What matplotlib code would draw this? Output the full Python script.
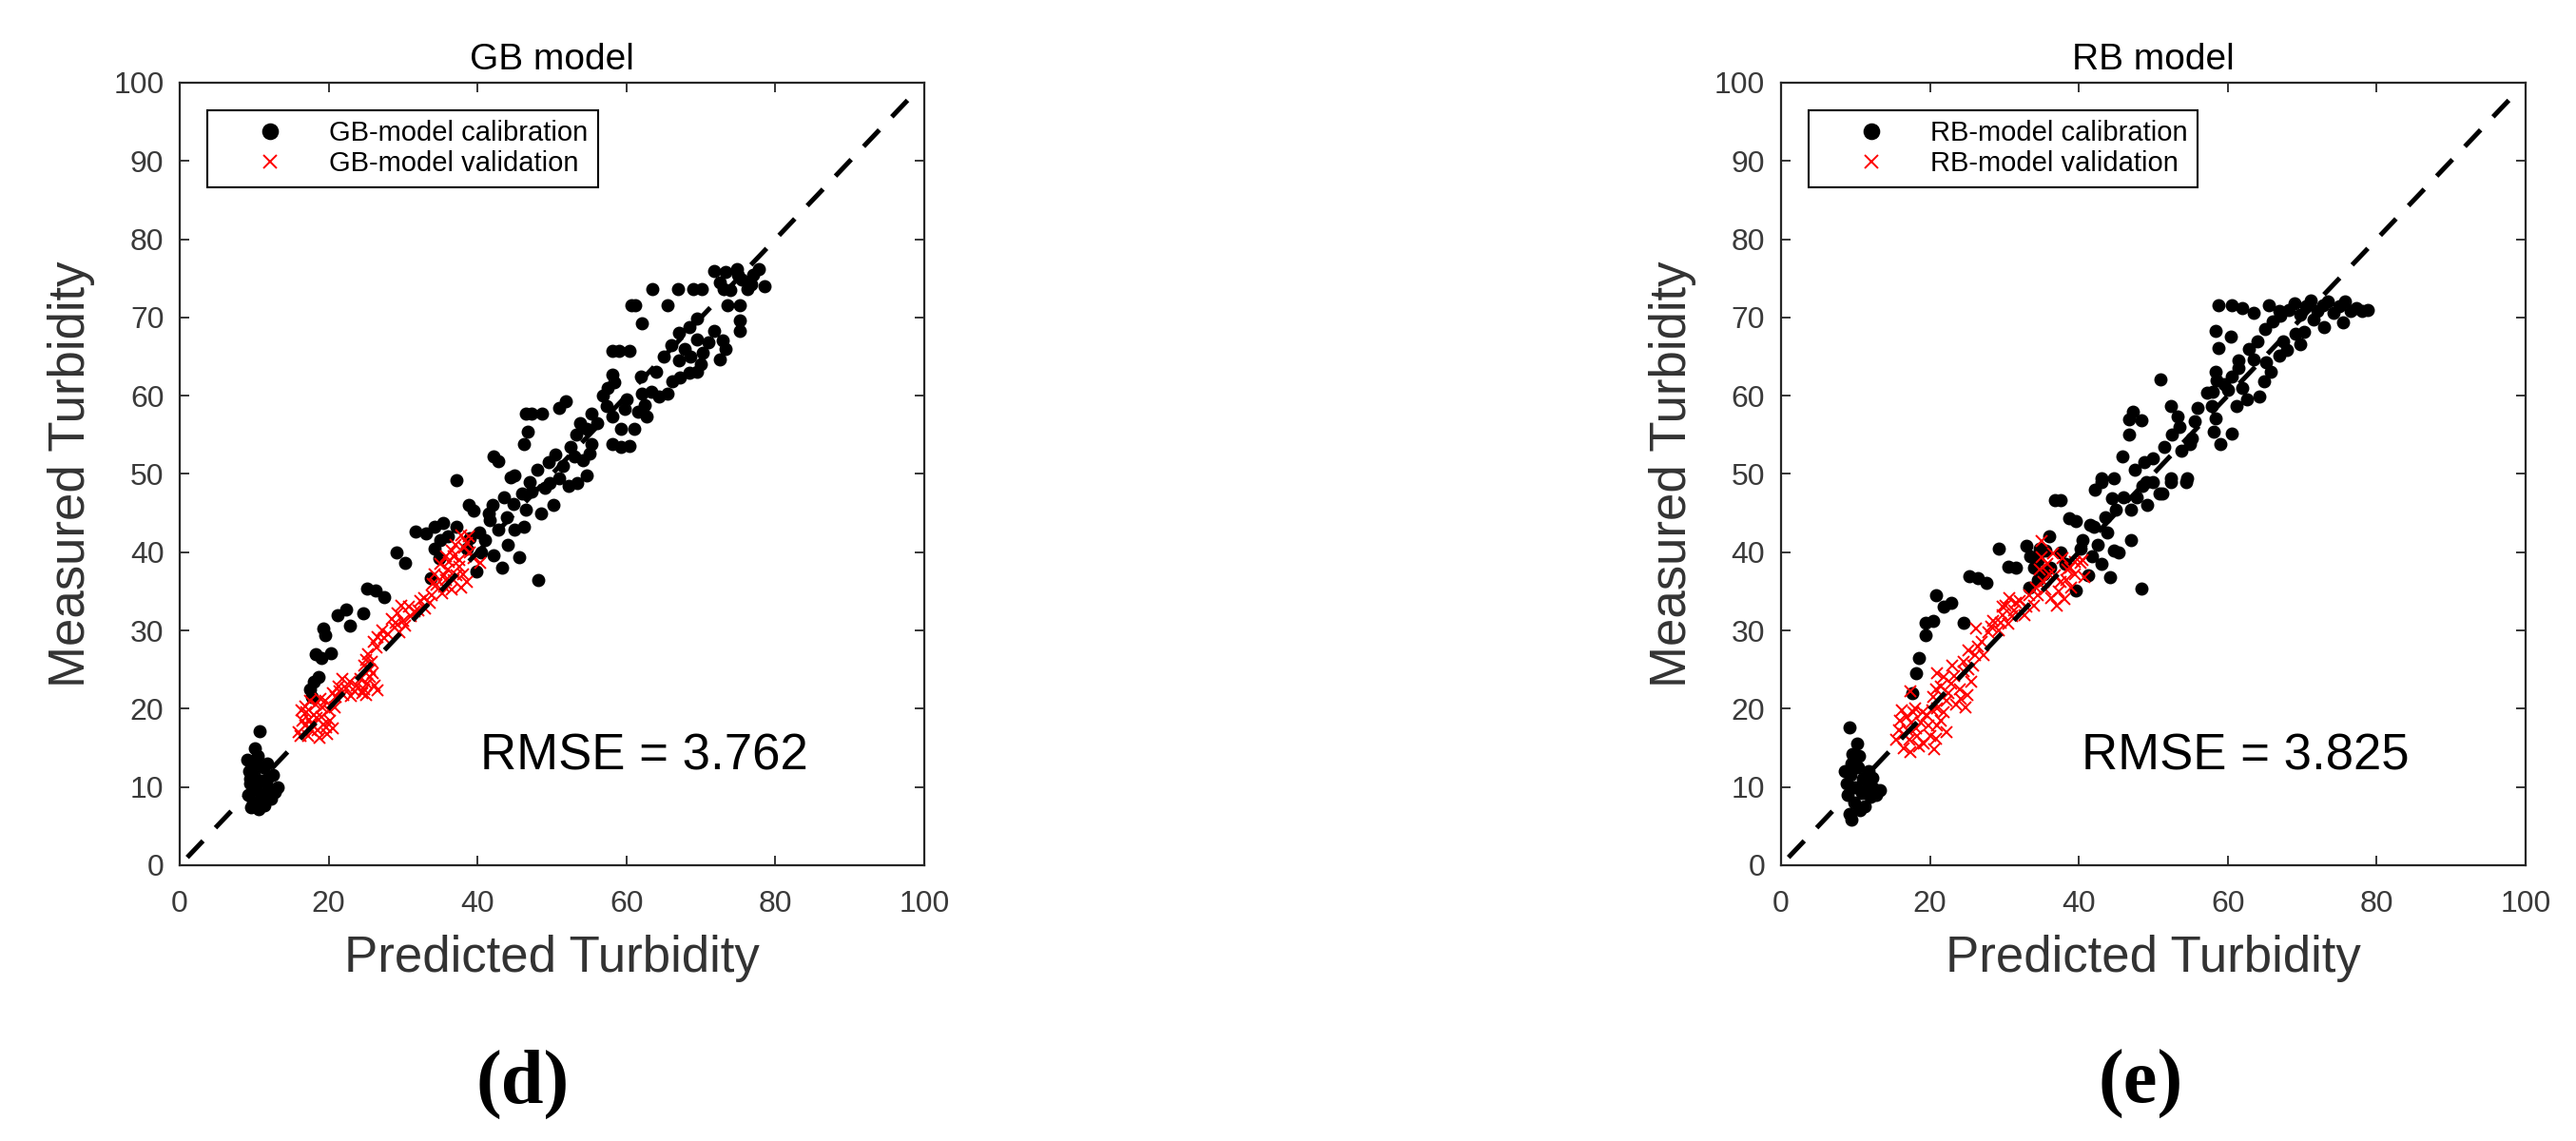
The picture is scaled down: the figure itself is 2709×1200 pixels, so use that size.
import matplotlib
matplotlib.use("Agg")
import matplotlib.pyplot as plt

plt.rcParams['font.family'] = ['Liberation Sans', 'DejaVu Sans']

# ---- data (predicted, measured) ----
gb_cal = [
    (9.0, 13.5), (9.3, 12.0), (9.5, 10.5), (9.2, 9.0), (9.8, 8.0), (10.0, 11.5), (10.2, 13.0),
    (10.5, 14.0), (10.4, 9.5), (10.8, 8.2), (11.0, 10.8), (11.2, 12.5), (11.5, 9.0), (11.8, 11.0),
    (12.0, 9.8), (12.3, 8.5), (12.8, 9.4), (13.2, 10.0), (9.6, 7.4), (10.6, 7.2), (11.4, 7.6),
    (10.1, 15.0), (10.7, 17.1), (9.4, 11.0), (11.7, 13.0), (12.5, 11.5),
    (17.5, 22.5), (18.0, 23.5), (18.6, 24.0), (17.8, 21.5), (18.3, 27.0), (19.0, 26.5), (20.3, 27.1),
    (19.5, 29.4), (19.3, 30.2), (21.2, 32.0), (22.3, 32.7), (22.9, 30.6), (24.6, 32.2), (25.1, 35.3),
    (26.3, 35.1), (27.4, 34.3), (29.1, 40.0), (30.3, 38.6), (31.7, 42.7), (33.1, 42.4), (34.2, 43.3),
    (35.4, 43.7), (37.1, 43.3), (34.2, 40.4), (34.8, 39.2), (33.7, 36.7), (35.0, 41.5), (36.0, 42.0),
    (37.1, 49.2), (38.8, 46.1), (39.4, 45.3), (39.9, 37.6), (40.5, 40.0), (41.6, 44.1), (42.8, 42.9),
    (43.9, 44.5), (45.0, 42.9), (46.2, 43.3), (43.3, 38.0), (45.6, 39.4), (42.2, 39.6), (48.2, 36.5),
    (45.0, 49.8), (49.0, 48.2), (50.2, 46.1), (54.7, 49.8), (47.3, 47.8), (48.5, 44.9), (41.0, 41.5),
    (44.0, 41.0), (46.5, 45.5),
    (38.5, 40.5), (39.0, 41.8), (40.2, 42.5), (41.5, 45.0), (42.0, 46.0), (43.5, 47.0), (44.8, 46.2),
    (46.0, 47.5), (47.0, 49.0), (48.0, 50.5), (49.5, 51.5), (50.5, 52.5), (51.5, 51.0), (52.5, 53.5),
    (53.8, 56.5), (56.0, 56.5), (56.8, 60.0), (57.5, 61.0), (60.0, 59.5), (62.0, 62.5), (64.0, 63.0),
    (65.0, 65.0), (66.0, 66.5), (67.0, 68.0),
    (42.2, 52.2), (42.8, 51.6), (44.5, 49.6), (46.2, 53.8), (46.8, 55.4), (46.5, 57.7), (47.3, 57.7),
    (48.7, 57.7), (51.0, 58.5), (51.9, 59.3), (49.7, 48.9), (51.0, 49.5), (52.2, 48.5), (53.4, 48.8),
    (53.0, 52.2), (54.2, 51.8), (55.0, 52.6), (53.3, 55.0), (54.7, 55.8), (55.3, 53.8), (55.3, 57.7),
    (57.3, 58.7), (58.1, 57.3), (58.1, 53.8), (59.2, 53.4), (60.4, 53.6), (59.2, 55.8), (61.0, 55.8),
    (59.8, 58.3), (61.5, 57.9), (62.7, 57.3), (62.1, 60.3), (63.3, 60.5), (64.4, 59.9), (65.5, 60.3),
    (66.1, 61.9), (67.2, 62.3), (68.4, 62.9), (69.5, 63.1), (58.1, 62.7), (58.4, 61.7), (58.1, 65.7),
    (59.0, 65.7), (60.4, 65.7), (62.1, 69.2), (60.7, 71.6), (61.2, 71.6), (65.5, 71.6), (63.5, 73.6),
    (66.9, 73.6), (68.9, 73.6), (70.1, 73.6), (71.8, 76.0), (72.5, 74.5), (73.3, 75.8), (74.0, 73.5),
    (74.8, 76.2), (75.5, 74.8), (76.3, 73.6), (77.0, 75.5), (77.8, 76.2), (78.5, 74.0), (73.0, 73.6),
    (75.0, 75.4), (76.8, 74.2), (73.5, 71.6), (75.2, 71.6), (75.2, 69.6), (75.2, 68.3), (68.4, 68.8),
    (69.5, 69.9), (67.8, 66.0), (68.6, 65.0), (69.5, 67.2), (70.3, 65.5), (71.0, 66.8), (71.8, 68.3),
    (72.5, 64.7), (72.9, 67.1), (73.3, 66.0), (70.0, 64.0), (67.0, 64.5), (62.5, 58.8),
]

gb_val = [
    (16.0, 17.0), (16.5, 18.5), (17.0, 19.5), (17.2, 16.5), (17.8, 18.0), (18.2, 20.5), (18.5, 17.2),
    (19.0, 19.0), (19.5, 21.0), (19.8, 16.8), (20.2, 18.5), (20.8, 20.2), (16.3, 19.8), (17.5, 21.0),
    (18.8, 16.3), (20.5, 17.5), (21.0, 21.5), (19.3, 18.0), (16.8, 17.8), (18.0, 19.2),
    (16.2, 16.5), (16.8, 20.3), (17.6, 17.3), (18.4, 18.8), (19.1, 20.2), (19.7, 17.6), (20.0, 19.8),
    (17.3, 18.6), (18.9, 21.3),
    (20.5, 22.0), (21.3, 22.8), (22.0, 21.8), (22.8, 23.5), (23.5, 22.2), (24.2, 23.8), (24.8, 22.5),
    (25.5, 24.0), (26.2, 23.0), (21.8, 23.8), (23.0, 21.6), (25.0, 21.8), (26.6, 22.4),
    (21.5, 22.2), (22.4, 22.6), (23.8, 23.0), (24.5, 22.0), (25.2, 23.2), (25.9, 24.6),
    (24.8, 25.5), (25.3, 27.0), (25.8, 26.0), (26.4, 27.8), (25.5, 25.0), (25.0, 26.3), (26.0, 28.5),
    (26.5, 29.2), (27.2, 30.0), (28.0, 29.5), (28.8, 30.4), (29.5, 29.8), (30.2, 30.6),
    (27.5, 29.0), (29.0, 31.0),
    (28.5, 31.5), (29.3, 32.2), (30.0, 31.2), (30.8, 33.0), (31.5, 32.4), (32.3, 33.8), (33.0, 32.8),
    (33.6, 33.5), (29.8, 33.2), (31.0, 31.8), (32.0, 32.6), (32.8, 34.2),
    (33.8, 34.5), (34.5, 35.8), (35.2, 34.8), (35.8, 36.5), (36.5, 35.2), (37.2, 37.0), (37.8, 35.5),
    (38.5, 36.2), (34.2, 37.2), (36.0, 37.8), (34.0, 36.0), (35.5, 35.6), (36.8, 36.4), (35.5, 37.0),
    (35.0, 38.5), (35.8, 39.5), (36.5, 40.2), (37.0, 41.0), (37.5, 39.0), (38.2, 40.6), (38.8, 42.0),
    (39.5, 39.2), (40.3, 38.6), (36.2, 38.8), (37.5, 38.2), (38.0, 37.2), (36.8, 39.5), (38.5, 41.2),
    (39.0, 40.0), (37.8, 42.2),
]

rb_cal = [
    (8.5, 12.0), (8.8, 10.5), (9.0, 9.0), (9.3, 11.5), (9.5, 13.0), (9.8, 8.0), (10.0, 10.0),
    (10.3, 12.5), (10.5, 14.0), (10.8, 9.2), (11.0, 11.0), (11.3, 7.5), (11.6, 10.2), (12.0, 8.8),
    (12.4, 9.8), (12.8, 9.0), (13.3, 9.6), (9.2, 6.5), (9.4, 5.8), (10.6, 7.0), (11.8, 12.0),
    (10.2, 15.5), (9.2, 17.6), (12.2, 11.2), (9.6, 14.2),
    (17.6, 22.0), (18.2, 24.5), (18.5, 26.5), (19.4, 29.4), (19.4, 31.0), (20.5, 31.2), (20.8, 34.5),
    (21.9, 33.1), (22.8, 33.5), (24.5, 31.0), (25.3, 36.9), (26.5, 36.7), (27.6, 36.1), (29.3, 40.5),
    (30.5, 38.2), (31.6, 38.0), (32.9, 40.8), (33.5, 39.5), (34.0, 38.0), (34.5, 36.5), (33.3, 35.5),
    (35.2, 37.2), (34.8, 40.5), (36.0, 42.0), (36.8, 46.7), (38.7, 44.3), (39.6, 44.0), (39.6, 35.1),
    (41.2, 37.0), (41.8, 39.5), (42.5, 41.0), (43.0, 38.5), (43.8, 42.5), (44.2, 36.8), (44.7, 40.2),
    (42.0, 43.3), (43.0, 49.4), (44.7, 49.4), (42.1, 48.0), (44.4, 46.9), (45.3, 40.0), (47.0, 41.6),
    (48.4, 35.3), (47.0, 45.5), (47.8, 47.0), (48.5, 48.5), (49.2, 46.0), (50.0, 49.0), (50.8, 47.5),
    (52.4, 49.4), (54.6, 49.4), (37.5, 40.0), (38.2, 38.5), (40.2, 40.5),
    (40.5, 41.5), (41.5, 43.5), (43.5, 44.5), (45.0, 45.5), (46.0, 47.0), (47.5, 50.5), (48.8, 51.5),
    (50.0, 52.0), (51.5, 53.5), (52.5, 55.0), (53.5, 56.0), (56.0, 58.5), (58.0, 60.5), (59.5, 61.5),
    (60.5, 62.5), (61.5, 64.5), (62.8, 66.0), (64.0, 67.0), (65.0, 68.5), (66.0, 69.5), (67.0, 70.2),
    (34.5, 39.0), (35.5, 40.2), (36.2, 38.0),
    (37.6, 46.6), (43.0, 49.0), (45.8, 52.2), (46.7, 57.0), (47.3, 57.9), (48.4, 56.9), (46.7, 55.0),
    (49.0, 49.0), (51.2, 47.5), (52.4, 49.0), (54.4, 49.0), (51.0, 62.1), (52.4, 58.7), (53.2, 57.3),
    (53.8, 53.0), (54.9, 53.8), (55.2, 54.6), (55.5, 56.7), (57.2, 60.4), (57.8, 58.7), (58.4, 57.1),
    (58.1, 55.4), (59.0, 53.8), (60.6, 55.2), (60.0, 60.8), (61.2, 58.7), (62.6, 59.5), (64.3, 59.9),
    (58.4, 63.1), (58.5, 62.0), (58.4, 68.3), (58.7, 66.1), (60.4, 67.5), (58.7, 71.6), (60.6, 71.6),
    (62.0, 71.2), (63.5, 70.6), (65.5, 71.6), (66.9, 70.8), (68.2, 71.0), (69.0, 71.8), (69.8, 70.4),
    (70.5, 71.5), (71.2, 72.2), (72.0, 70.8), (72.8, 71.6), (73.5, 72.0), (74.2, 70.6), (75.0, 71.4),
    (75.8, 72.0), (76.5, 70.8), (77.3, 71.2), (78.0, 70.8), (78.8, 71.0), (72.9, 68.8), (75.5, 69.4),
    (71.5, 69.8), (69.1, 67.9), (69.7, 66.6), (68.0, 65.9), (66.9, 65.1), (65.2, 64.3), (65.8, 63.1),
    (64.9, 61.9), (63.5, 64.7), (67.5, 67.0), (70.3, 68.2), (61.5, 63.5), (62.0, 61.0),
]

rb_val = [
    (15.5, 16.0), (16.0, 18.5), (16.5, 15.0), (17.0, 17.2), (17.4, 14.4), (17.8, 19.5), (18.3, 16.5),
    (18.8, 18.2), (19.2, 15.5), (19.8, 17.8), (20.3, 19.8), (20.8, 16.2), (21.5, 18.5), (22.2, 17.0),
    (16.2, 19.8), (18.0, 20.0), (19.5, 19.2), (20.6, 14.8), (17.2, 16.0), (21.0, 20.0), (17.4, 22.2),
    (15.8, 17.2), (16.5, 16.8), (17.5, 18.2), (18.5, 15.2), (19.0, 19.5), (20.0, 16.5), (21.0, 17.8),
    (21.8, 19.5), (16.8, 19.0), (18.2, 17.5),
    (20.5, 21.5), (21.0, 24.5), (21.5, 22.8), (22.2, 21.0), (22.8, 23.2), (23.5, 20.5), (24.0, 22.5),
    (24.5, 24.8), (25.0, 21.8), (25.5, 23.5), (23.0, 25.5), (24.8, 20.2), (20.8, 22.5), (21.8, 24.0),
    (22.5, 22.0), (23.2, 24.2), (24.2, 21.2),
    (24.5, 26.0), (25.2, 27.5), (25.8, 25.5), (26.5, 28.0), (27.2, 26.8), (26.2, 30.2), (25.2, 25.0),
    (26.0, 26.8), (27.0, 28.5),
    (27.8, 29.8), (28.5, 31.2), (29.2, 30.0), (29.8, 32.0), (30.5, 30.8), (31.0, 31.8), (28.2, 30.5),
    (29.5, 31.0),
    (29.8, 33.0), (30.6, 34.2), (31.3, 32.5), (32.0, 33.8), (32.7, 32.0), (33.3, 34.5), (34.0, 33.2),
    (30.2, 33.2), (31.5, 33.5), (33.0, 33.0),
    (34.2, 35.5), (34.8, 37.8), (35.3, 36.2), (35.8, 38.5), (36.3, 34.2), (36.8, 37.0), (37.3, 35.0),
    (37.8, 39.2), (38.3, 36.5), (38.8, 38.0), (39.5, 37.2), (40.2, 38.6), (40.8, 36.8), (37.0, 33.2),
    (35.0, 39.4), (39.0, 35.5), (35.0, 41.4), (34.5, 34.5), (35.5, 35.2), (36.0, 37.2), (37.5, 36.2),
    (38.5, 37.8), (39.5, 38.8), (36.5, 39.8), (40.5, 39.0), (38.0, 34.0),
]

panels = [
    ("GB", gb_cal, gb_val, "3.762", "(d)"),
    ("RB", rb_cal, rb_val, "3.825", "(e)"),
]
x_ticks = [0, 20, 40, 60, 80, 100]
y_ticks = [0, 10, 20, 30, 40, 50, 60, 70, 80, 90, 100]

fig = plt.figure(figsize=(27.09, 12), dpi=100)
axes_left = [0.0698, 0.6914]
letter_x = [0.203, 0.831]

for i, (name, cal, val, rmse, letter) in enumerate(panels):
    ax = fig.add_axes([axes_left[i], 0.2417, 0.289, 0.6858])
    cx, cy = zip(*cal)
    vx, vy = zip(*val)
    ax.plot(cx, cy, 'o', color='k', ms=9, ls='none', label=f'{name}-model calibration')
    ax.plot(vx, vy, 'x', color='r', ms=8, mew=1.4, ls='none', label=f'{name}-model validation')
    ax.plot([1, 99], [1, 99], color='k', lw=3.6, dashes=(4.8, 3.8))

    ax.set_xlim(0, 100)
    ax.set_ylim(0, 100)
    ax.set_xticks(x_ticks)
    ax.set_yticks(y_ticks)
    ax.tick_params(direction='in', length=7.2, width=1.3, top=True, right=True,
                   labelsize=23, labelcolor='#3a3a3a', color='#262626')
    ax.tick_params(axis='x', pad=19)
    ax.tick_params(axis='y', pad=12)
    for sp in ax.spines.values():
        sp.set_linewidth(1.6)
        sp.set_color('#262626')

    ax.set_title(f'{name} model', fontsize=28, pad=10, color='k')
    ax.set_xlabel('Predicted Turbidity', fontsize=38, color='#333333', labelpad=12)
    ax.set_ylabel('Measured Turbidity', fontsize=38, color='#333333', labelpad=14)
    ax.text(40.4, 12.2, f'RMSE = {rmse}', fontsize=38, color='k', va='baseline')

    leg = ax.legend(loc='upper left', bbox_to_anchor=(0.037, 0.965), borderaxespad=0,
                    fontsize=21, fancybox=False, edgecolor='k', framealpha=1,
                    handlelength=3.8, handletextpad=0.25, borderpad=0.35,
                    labelspacing=0.15, numpoints=1, markerscale=1.3)
    leg.get_frame().set_linewidth(1.5)

    fig.text(letter_x[i], 0.05, letter, fontsize=58, fontweight='bold',
             family='Liberation Serif', ha='center', va='center')

fig.savefig('out.png', dpi=100)
